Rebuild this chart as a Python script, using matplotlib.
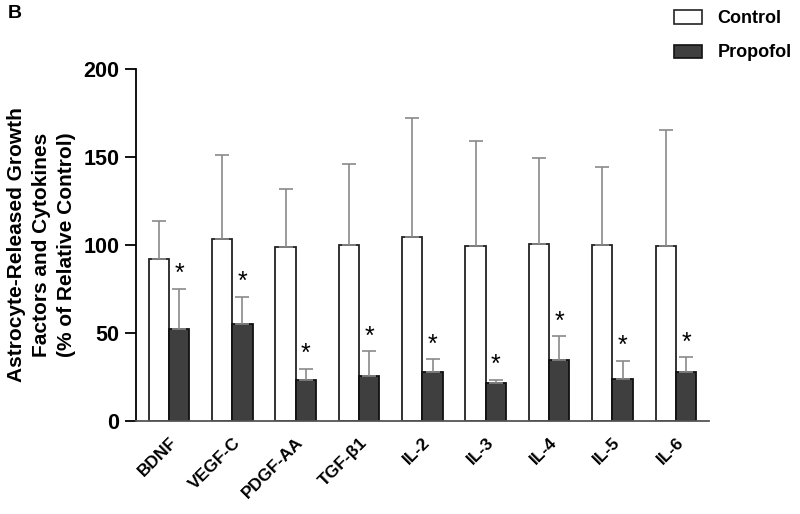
import numpy as np
import matplotlib.pyplot as plt
from matplotlib.patches import Patch

plt.rcParams['font.family'] = ['Liberation Sans', 'DejaVu Sans']

labels = ['BDNF', 'VEGF-C', 'PDGF-AA', 'TGF-β1', 'IL-2', 'IL-3', 'IL-4', 'IL-5', 'IL-6']
control = [92, 103.5, 99, 100, 104.5, 99.5, 100.5, 100, 99.5]
control_err = [21.5, 47.5, 32.5, 46, 67.5, 59.5, 49, 44.5, 65.5]
propofol = [52, 55, 23, 25.5, 28, 21.5, 34.5, 24, 27.7]
propofol_err = [23, 15.5, 6.5, 14, 7, 2, 13.5, 10, 8.5]

x = np.arange(len(labels))
w = 0.32

fig = plt.figure(figsize=(8, 5.14), dpi=100)
ax = fig.add_axes([0.17, 0.181, 0.716, 0.685])

ax.bar(x - w / 2, control, w, color='white', edgecolor='#222222', linewidth=1.3,
       yerr=[np.zeros(len(x)), control_err], capsize=5,
       error_kw=dict(ecolor='#8a8a8a', elinewidth=1.2, capthick=1.2))
ax.bar(x + w / 2, propofol, w, color='#3f3f3f', edgecolor='#111111', linewidth=1.3,
       yerr=[np.zeros(len(x)), propofol_err], capsize=5,
       error_kw=dict(ecolor='#8a8a8a', elinewidth=1.2, capthick=1.2))

# significance stars
for xi, v, e in zip(x, propofol, propofol_err):
    ax.annotate('*', (xi + w / 2, v + e), xytext=(0, 2), textcoords='offset points',
                ha='center', va='bottom', fontsize=18)

ax.set_xlim(-0.52, 8.52)
ax.set_ylim(0, 200)
ax.set_yticks([0, 50, 100, 150, 200])
ax.set_xticks(x)
ax.set_xticklabels(labels, rotation=45, ha='right', rotation_mode='anchor',
                   fontsize=12.5, fontweight='bold')
ax.tick_params(axis='x', length=0, pad=10)
ax.tick_params(axis='y', length=8, width=1.3, labelsize=15.5, pad=4)
for t in ax.get_yticklabels():
    t.set_fontweight('bold')

ax.spines['top'].set_visible(False)
ax.spines['right'].set_visible(False)
ax.spines['left'].set_linewidth(1.3)
ax.spines['bottom'].set_linewidth(1.3)
ax.spines['bottom'].set_color('#555555')

ax.set_ylabel('Astrocyte-Released Growth\nFactors and Cytokines\n(% of Relative Control)',
              fontsize=15, fontweight='bold', labelpad=5, linespacing=1.4)

fig.text(0.01, 0.99, 'B', fontsize=14, fontweight='bold', va='top')

handles = [Patch(facecolor='white', edgecolor='#222222', linewidth=1.2),
           Patch(facecolor='#3f3f3f', edgecolor='#111111', linewidth=1.2)]
fig.legend(handles, ['Control', 'Propofol'], loc='upper left',
           bbox_to_anchor=(0.8425, 0.98), frameon=False, borderpad=0, borderaxespad=0,
           prop=dict(weight='bold', size=13), handlelength=1.55, handleheight=0.75,
           labelspacing=0.95, handletextpad=0.85)

fig.savefig('out.png', dpi=100)
